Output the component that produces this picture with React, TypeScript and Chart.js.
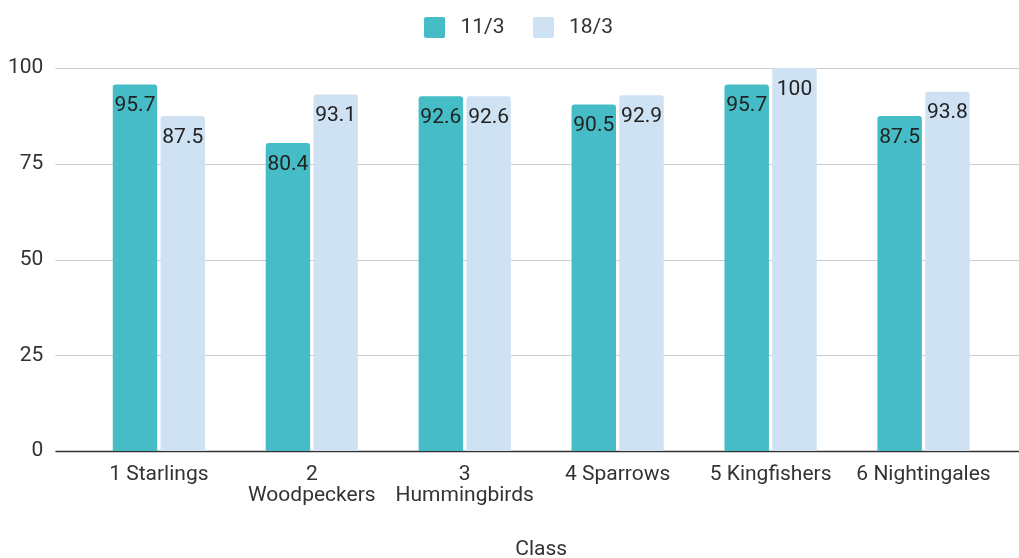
import { useRef, useEffect } from "react";
import { Chart, registerables } from "chart.js";

Chart.register(...registerables);

const categories: (string | string[])[] = [
  "1 Starlings",
  ["2", "Woodpeckers"],
  ["3", "Hummingbirds"],
  "4 Sparrows",
  "5 Kingfishers",
  "6 Nightingales",
];
const series1Label = "11/3";
const series1 = [95.7, 80.4, 92.6, 90.5, 95.7, 87.5];
const series2Label = "18/3";
const series2 = [87.5, 93.1, 92.6, 92.9, 100, 93.8];
const yTicks = [0, 25, 50, 75, 100];

const FONT = "Roboto, 'Noto Sans', sans-serif";
const TEAL = "#46bdc6";
const LIGHT = "#cfe2f3";

// small rounded square used as the legend marker
const makeSwatch = (color: string) => {
  const c = document.createElement("canvas");
  c.width = 21;
  c.height = 21;
  const g = c.getContext("2d")!;
  g.fillStyle = color;
  g.beginPath();
  g.roundRect(0, 0, 21, 21, 2);
  g.fill();
  return c;
};

// gridlines run past the category area, like the original sheet chart
const wideGrid = {
  id: "wideGrid",
  beforeDatasetsDraw(chart: Chart) {
    const { ctx, chartArea } = chart;
    const y = chart.scales.y;
    const x0 = chartArea.left - 27;
    const x1 = chart.width;
    ctx.save();
    yTicks.forEach((v) => {
      const py = Math.round(y.getPixelForValue(v)) + 0.5;
      ctx.strokeStyle = v === 0 ? "#333" : "#cccccc";
      ctx.lineWidth = v === 0 ? 1.5 : 1.2;
      ctx.beginPath();
      ctx.moveTo(x0, py);
      ctx.lineTo(x1, py);
      ctx.stroke();
    });
    ctx.restore();
  },
};

// draws the value just inside the top of each bar
const barLabels = {
  id: "barLabels",
  afterDatasetsDraw(chart: Chart) {
    const ctx = chart.ctx;
    ctx.save();
    ctx.font = `21px ${FONT}`;
    ctx.fillStyle = "#222";
    ctx.textAlign = "center";
    ctx.textBaseline = "top";
    chart.data.datasets.forEach((ds, i) => {
      const meta = chart.getDatasetMeta(i);
      meta.data.forEach((bar: any, j) => {
        ctx.fillText(String(ds.data[j]), bar.x, bar.y + 11);
      });
    });
    ctx.restore();
  },
};

// extra room between legend and plot, and centre the legend on the whole canvas
const legendMargin = {
  id: "legendMargin",
  beforeInit(chart: any) {
    const fit = chart.legend.fit;
    chart.legend.fit = function () {
      fit.bind(chart.legend)();
      this.height += 20;
    };
  },
  afterLayout(chart: any) {
    chart.legend.left += 64;
  },
};

export default function App() {
  const canvasRef = useRef<HTMLCanvasElement>(null);
  const chartRef = useRef<Chart | null>(null);

  useEffect(() => {
    document.body.style.margin = "0";
    const ctx = canvasRef.current?.getContext("2d");
    if (!ctx) return;
    if (chartRef.current) chartRef.current.destroy();

    chartRef.current = new Chart(ctx, {
      type: "bar",
      data: {
        labels: categories,
        datasets: [
          {
            label: series1Label,
            data: series1,
            backgroundColor: TEAL,
            pointStyle: makeSwatch(TEAL),
            borderRadius: { topLeft: 3, topRight: 3 },
            borderSkipped: "bottom",
            categoryPercentage: 0.625,
            barPercentage: 0.93,
          },
          {
            label: series2Label,
            data: series2,
            backgroundColor: LIGHT,
            pointStyle: makeSwatch(LIGHT),
            borderRadius: { topLeft: 3, topRight: 3 },
            borderSkipped: "bottom",
            categoryPercentage: 0.625,
            barPercentage: 0.93,
          },
        ],
      },
      options: {
        animation: false,
        responsive: true,
        maintainAspectRatio: false,
        layout: { padding: { left: -31, right: 19, top: -7, bottom: -2 } },
        plugins: {
          legend: {
            position: "top",
            labels: {
              usePointStyle: true,
              pointStyleWidth: 30,
              boxHeight: 21,
              padding: 24,
              color: "#333",
              font: { family: FONT, size: 21 },
            },
          },
          tooltip: { enabled: false },
        },
        scales: {
          x: {
            grid: { display: false, drawTicks: false },
            border: { display: false },
            ticks: {
              color: "#333",
              font: { family: FONT, size: 21, lineHeight: 1.0 },
              maxRotation: 0,
              autoSkip: false,
              padding: 13,
            },
            title: {
              display: true,
              text: "Class",
              color: "#333",
              font: { family: FONT, size: 21, lineHeight: 1.0 },
              padding: { top: 20, bottom: 0 },
            },
          },
          y: {
            min: 0,
            max: 100,
            afterBuildTicks: (axis) => {
              axis.ticks = yTicks.map((v) => ({ value: v }));
            },
            grid: { display: false, drawTicks: false },
            border: { display: false },
            ticks: {
              color: "#333",
              font: { family: FONT, size: 21 },
              padding: 39,
            },
          },
        },
      },
      plugins: [legendMargin, wideGrid, barLabels],
    });

    return () => {
      if (chartRef.current) {
        chartRef.current.destroy();
        chartRef.current = null;
      }
    };
  }, []);

  return (
    <div style={{ width: "1019px", height: "558px", background: "#fff" }}>
      <canvas ref={canvasRef} />
    </div>
  );
}
